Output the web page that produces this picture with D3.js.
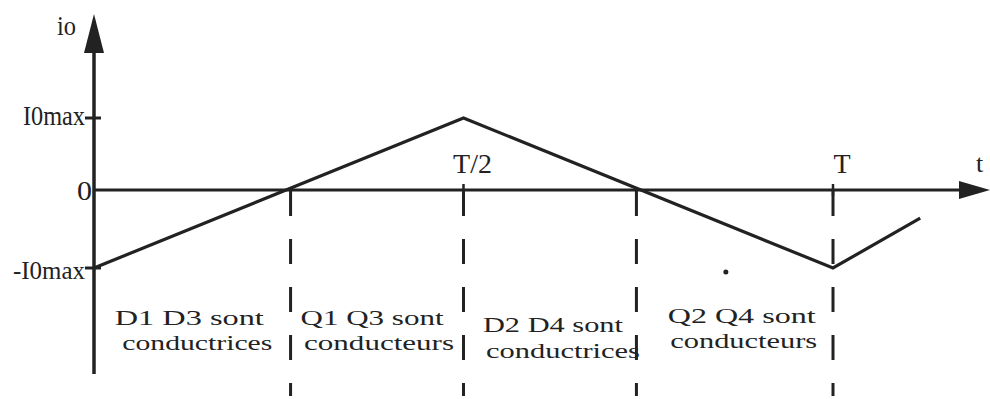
<!DOCTYPE html>
<html>
<head>
<meta charset="utf-8">
<script src="https://cdn.jsdelivr.net/npm/d3@7"></script>
<style>
    body { margin: 0; background: #fff; }
    svg text { font-family: "Liberation Serif", "DejaVu Serif", serif; fill: #222; }
</style>
</head>
<body>
<svg id="wave-chart"></svg>
<script>
// Waveform of the output current io over one period (t in units of T, io in units of I0max)
const wave_t = [0, 0.5, 1, 1.118];
const wave_i = [-1, 1, -1, -0.36];

// Instants where the conduction intervals change (dashed verticals)
const switch_t = [0.266, 0.5, 0.734, 1];

// Tick labels on both axes
const x_tick_values = [0.5, 1];
const x_tick_labels = ["T/2", "T"];
const y_tick_values = [1, 0, -1];
const y_tick_labels = ["I0max", "0", "-I0max"];

// Conduction intervals labels (two lines each)
const region_line1 = ["D1 D3 sont", "Q1 Q3 sont", "D2 D4 sont", "Q2 Q4 sont"];
const region_line2 = ["conductrices", "conducteurs", "conductrices", "conducteurs"];

// Stray speck on the scanned figure
const speck_t = [0.855];
const speck_i = [-1.05];

// Chart dimensions
const width = 990, height = 399;
const stroke_color = "#222";

const svg = d3.select("#wave-chart")
    .attr("width", width)
    .attr("height", height);

// Scales: time -> x, current -> y (axis a bit closer to the negative peak as in the figure)
const x_scale = d3.scaleLinear().domain([0, 1]).range([94, 833]);
const y_scale = d3.scaleLinear().domain([-1, 0, 1]).range([268, 190, 118]);

const x0 = x_scale(0), y0 = y_scale(0);

// Vertical axis with arrow
svg.append("line")
    .attr("x1", x0).attr("x2", x0)
    .attr("y1", 374).attr("y2", 50)
    .attr("stroke", stroke_color).attr("stroke-width", 3.5);
svg.append("path")
    .attr("d", `M${x0},14 L${x0 - 10},53 L${x0 + 10},53 Z`)
    .attr("fill", stroke_color);
svg.append("text")
    .attr("x", 57).attr("y", 35)
    .attr("font-size", 27)
    .attr("textLength", 19).attr("lengthAdjust", "spacingAndGlyphs")
    .text("io");

// Horizontal axis with arrow
svg.append("line")
    .attr("x1", x0).attr("x2", 962)
    .attr("y1", y0).attr("y2", y0)
    .attr("stroke", stroke_color).attr("stroke-width", 3);
svg.append("path")
    .attr("d", `M990,${y0} L959,${y0 - 9} L959,${y0 + 9} Z`)
    .attr("fill", stroke_color);
svg.append("text")
    .attr("x", 976).attr("y", 172)
    .attr("font-size", 26)
    .text("t");

// Y ticks and labels
const y_label_layout = [
    { x: 85, dy: 7, len: 62, size: 28 },
    { x: 92, dy: 10, len: 15, size: 28 },
    { x: 85, dy: 11, len: 72, size: 25 }
];
y_tick_values.forEach((v, i) => {
    if (v !== 0) {
        svg.append("line")
            .attr("x1", x0 - 9).attr("x2", x0 + 7)
            .attr("y1", y_scale(v)).attr("y2", y_scale(v))
            .attr("stroke", stroke_color).attr("stroke-width", 3);
    }
    svg.append("text")
        .attr("x", y_label_layout[i].x)
        .attr("y", y_scale(v) + y_label_layout[i].dy)
        .attr("text-anchor", "end")
        .attr("font-size", y_label_layout[i].size)
        .attr("textLength", y_label_layout[i].len)
        .attr("lengthAdjust", "spacingAndGlyphs")
        .text(y_tick_labels[i]);
});

// X ticks and labels
x_tick_values.forEach((v, i) => {
    svg.append("line")
        .attr("x1", x_scale(v)).attr("x2", x_scale(v))
        .attr("y1", y0 - 6).attr("y2", y0 + 6)
        .attr("stroke", stroke_color).attr("stroke-width", 2.5);
    svg.append("text")
        .attr("x", x_scale(v) + 9)
        .attr("y", 173)
        .attr("text-anchor", "middle")
        .attr("font-size", 28)
        .text(x_tick_labels[i]);
});

// Dashed verticals marking the conduction intervals
svg.selectAll(".switch")
    .data(switch_t)
    .join("line")
    .attr("class", "switch")
    .attr("x1", d => x_scale(d)).attr("x2", d => x_scale(d))
    .attr("y1", y0 + 1).attr("y2", 396)
    .attr("stroke", stroke_color)
    .attr("stroke-width", 3)
    .attr("stroke-dasharray", "25,23");

// Current waveform
const wave_line = d3.line()
    .x(d => x_scale(d[0]))
    .y(d => y_scale(d[1]));
svg.append("path")
    .datum(d3.zip(wave_t, wave_i))
    .attr("d", wave_line)
    .attr("fill", "none")
    .attr("stroke", stroke_color)
    .attr("stroke-width", 3.2)
    .attr("stroke-linejoin", "miter");

// Speck
svg.selectAll(".speck")
    .data(d3.zip(speck_t, speck_i))
    .join("circle")
    .attr("class", "speck")
    .attr("cx", d => x_scale(d[0]))
    .attr("cy", d => y_scale(d[1]))
    .attr("r", 2.5)
    .attr("fill", stroke_color);

// Interval labels, centred between consecutive dashed lines
const bounds = [0].concat(switch_t);
const region_layout = [
    { dx1: -3, dx2: 5, y1: 325, y2: 350, len1: 149, len2: 150 },
    { dx1: -5, dx2: 2, y1: 325, y2: 350, len1: 143, len2: 150 },
    { dx1: 3, dx2: 13, y1: 332, y2: 358, len1: 140, len2: 154 },
    { dx1: 7, dx2: 9, y1: 323, y2: 348, len1: 148, len2: 147 }
];
region_line1.forEach((label, i) => {
    const cx = (x_scale(bounds[i]) + x_scale(bounds[i + 1])) / 2;
    const lay = region_layout[i];
    svg.append("text")
        .attr("x", cx + lay.dx1).attr("y", lay.y1)
        .attr("text-anchor", "middle")
        .attr("font-size", 22)
        .attr("textLength", lay.len1)
        .attr("lengthAdjust", "spacingAndGlyphs")
        .text(label);
    svg.append("text")
        .attr("x", cx + lay.dx2).attr("y", lay.y2)
        .attr("text-anchor", "middle")
        .attr("font-size", 22)
        .attr("textLength", lay.len2)
        .attr("lengthAdjust", "spacingAndGlyphs")
        .text(region_line2[i]);
});
</script>
</body>
</html>
